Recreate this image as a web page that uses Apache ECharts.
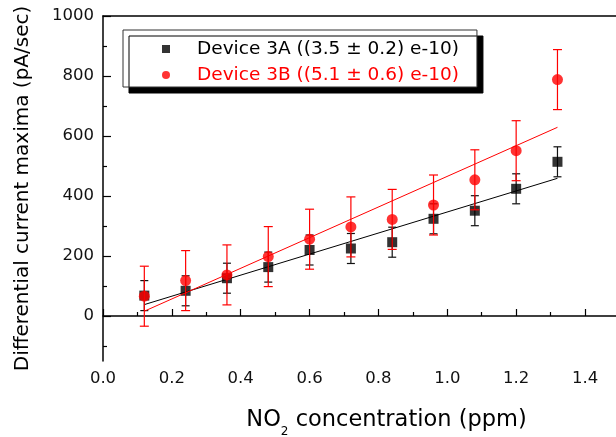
<!DOCTYPE html>
<html>
<head>
<meta charset="utf-8">
<script src="https://cdn.jsdelivr.net/npm/echarts@6/dist/echarts.min.js"></script>
<style>html,body{margin:0;padding:0;background:#fff}#c{width:616px;height:437px}</style>
</head>
<body>
<div id="c"></div>
<script>
// ---- data ----
const concentration = [0.12, 0.24, 0.36, 0.48, 0.60, 0.72, 0.84, 0.96, 1.08, 1.20, 1.32];
const device3A = [68, 84, 126, 163, 220, 225, 246, 324, 351, 424, 514];
const device3AErr = [50, 50, 50, 50, 50, 50, 50, 50, 50, 50, 50];
const device3B = [66, 118, 137, 198, 256, 297, 322, 370, 454, 551, 788];
const device3BErr = [100, 100, 100, 100, 100, 100, 100, 100, 100, 100, 100];
const fit3A = [[0.12, 38], [1.32, 459]];
const fit3B = [[0.12, 16], [1.32, 629]];
const xMajorTicks = [0, 0.2, 0.4, 0.6, 0.8, 1.0, 1.2, 1.4];
const xMinorTicks = [0.1, 0.3, 0.5, 0.7, 0.9, 1.1, 1.3];
const yMajorTicks = [0, 200, 400, 600, 800, 1000];
const yMinorTicks = [-100, 100, 300, 500, 700, 900];
const nameA = 'Device 3A ((3.5 \u00b1 0.2) e-10)';
const nameB = 'Device 3B ((5.1 \u00b1 0.6) e-10)';

const FONT = 'DejaVu Sans, Liberation Sans, sans-serif';
const RED = '#ff0000';
const X_MIN = 0, X_MAX = 1.49, Y_MIN = -150, Y_MAX = 1000;

function errData(vals, errs) {
  return concentration.map((x, i) => [x, vals[i] - errs[i], vals[i] + errs[i]]);
}
function errRender(color, capW) {
  return function (params, api) {
    const x = api.value(0), lo = api.value(1), hi = api.value(2);
    const a = api.coord([x, lo]), b = api.coord([x, hi]);
    const st = { stroke: color, lineWidth: 1.2 };
    return {
      type: 'group',
      children: [
        { type: 'line', shape: { x1: a[0], y1: a[1], x2: b[0], y2: b[1] }, style: st },
        { type: 'line', shape: { x1: a[0] - capW / 2, y1: a[1], x2: a[0] + capW / 2, y2: a[1] }, style: st },
        { type: 'line', shape: { x1: b[0] - capW / 2, y1: b[1], x2: b[0] + capW / 2, y2: b[1] }, style: st }
      ]
    };
  };
}

const tickStyle = { color: '#000', width: 1.2 };
const chart = echarts.init(document.getElementById('c'), null, { renderer: 'canvas' });
chart.setOption({
  animation: false,
  backgroundColor: '#fff',
  textStyle: { fontFamily: FONT },
  grid: { left: 103, right: 0, top: 16, height: 345, show: false, containLabel: false, outerBoundsMode: 'none' },
  legend: {
    orient: 'vertical', left: 123, top: 30,
    padding: [9, 18, 2, 39],
    itemWidth: 52, itemHeight: 8, itemGap: 6,
    backgroundColor: '#fff', borderColor: '#333', borderWidth: 1,
    shadowColor: '#000', shadowBlur: 0, shadowOffsetX: 6, shadowOffsetY: 6,
    textStyle: { fontSize: 18.5, lineHeight: 20, color: '#000', fontFamily: FONT },
    data: [
      { name: nameA, icon: 'path://M0 0L10 0L10 10L0 10Z' },
      { name: nameB, textStyle: { color: RED } }
    ]
  },
  xAxis: [{
    type: 'value', min: X_MIN, max: X_MAX, position: 'bottom',
    name: 'NO{s|2} concentration (ppm)',
    nameLocation: 'middle', nameGap: 41,
    nameTextStyle: {
      fontSize: 22.5, color: '#000', fontFamily: FONT, padding: [0, 0, 0, 54],
      rich: { s: { fontSize: 12, padding: [24, 0, 0, 0], fontFamily: FONT, color: '#000' } }
    },
    axisLine: { show: true, lineStyle: { color: '#000', width: 1.5 } },
    axisTick: { show: true, inside: true, length: 7, customValues: xMajorTicks, lineStyle: tickStyle },
    axisLabel: { fontSize: 16.5, color: '#111', margin: 9, fontFamily: FONT, customValues: xMajorTicks, formatter: v => v.toFixed(1) },
    splitLine: { show: false }
  }, {
    type: 'value', min: X_MIN, max: X_MAX, position: 'bottom',
    axisLine: { show: false },
    axisTick: { show: true, inside: true, length: 4, customValues: xMinorTicks, lineStyle: tickStyle },
    axisLabel: { show: false },
    splitLine: { show: false }
  }, {
    type: 'value', min: X_MIN, max: X_MAX, position: 'top',
    axisLine: { show: true, lineStyle: { color: '#000', width: 1.5 } },
    axisTick: { show: false },
    axisLabel: { show: false },
    splitLine: { show: false }
  }],
  yAxis: [{
    type: 'value', min: Y_MIN, max: Y_MAX, position: 'left',
    name: 'Differential current maxima (pA/sec)',
    nameLocation: 'middle', nameGap: 70,
    nameTextStyle: { fontSize: 20, color: '#000', fontFamily: FONT },
    axisLine: { show: true, lineStyle: { color: '#000', width: 1.5 } },
    axisTick: { show: true, inside: true, length: 8, customValues: yMajorTicks, lineStyle: tickStyle },
    axisLabel: { fontSize: 16.5, color: '#111', margin: 9, fontFamily: FONT, customValues: yMajorTicks, formatter: v => String(v) },
    splitLine: { show: false }
  }, {
    type: 'value', min: Y_MIN, max: Y_MAX, position: 'left',
    axisLine: { show: false },
    axisTick: { show: true, inside: true, length: 4, customValues: yMinorTicks, lineStyle: tickStyle },
    axisLabel: { show: false },
    splitLine: { show: false }
  }],
  series: [
    {
      type: 'custom', name: 'errA', renderItem: errRender('#111', 8),
      data: errData(device3A, device3AErr), encode: { x: 0, y: [1, 2] }, z: 2, silent: true
    },
    {
      type: 'line', name: 'fitA', data: fit3A, symbol: 'none',
      lineStyle: { color: '#000', width: 1 }, z: 3, silent: true
    },
    {
      type: 'scatter', name: nameA, symbol: 'rect', symbolSize: 10,
      itemStyle: { color: '#000' },
      data: concentration.map((x, i) => [x, device3A[i]]), z: 4
    },
    {
      type: 'custom', name: 'errB', renderItem: errRender(RED, 9),
      data: errData(device3B, device3BErr), encode: { x: 0, y: [1, 2] }, z: 5, silent: true
    },
    {
      type: 'line', name: 'fitB', data: fit3B, symbol: 'none',
      lineStyle: { color: RED, width: 1 }, z: 6, silent: true
    },
    {
      type: 'scatter', name: nameB, symbol: 'circle', symbolSize: 11,
      itemStyle: { color: RED },
      data: concentration.map((x, i) => [x, device3B[i]]), z: 7
    }
  ]
});
</script>
</body>
</html>
